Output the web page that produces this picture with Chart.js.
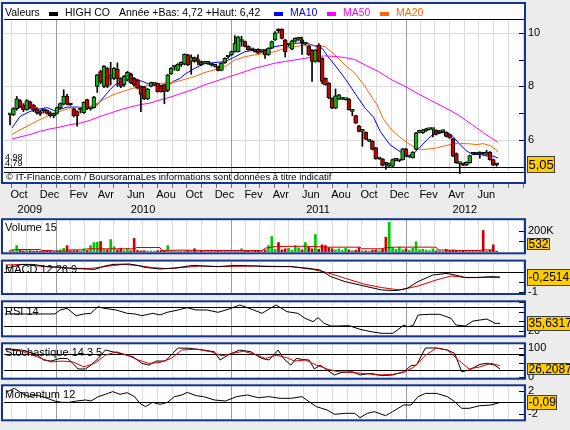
<!DOCTYPE html>
<html>
<head>
<meta charset="utf-8">
<script src="https://cdn.jsdelivr.net/npm/chart.js"></script>
<style>
  body { margin: 0; background: #ececec; }
  #wrap { position: relative; width: 570px; height: 430px; }
  canvas { position: absolute; left: 0; top: 0; }
</style>
</head>
<body>
<div id="wrap">
  <canvas id="cMain" width="570" height="430"></canvas>
  <canvas id="cVol" width="570" height="430"></canvas>
  <canvas id="cMacd" width="570" height="430"></canvas>
  <canvas id="cRsi" width="570" height="430"></canvas>
  <canvas id="cSto" width="570" height="430"></canvas>
  <canvas id="cMom" width="570" height="430"></canvas>
</div>
<script>
// weekly candles HIGH CO, week 0 = 28/09/2009
const opens = [6.93,6.93,7.16,7.46,7.30,7.12,7.42,7.30,7.15,7.05, 7.10,7.10,7.00,6.90,6.98,7.20,7.33,7.63,7.33,7.15,
  7.05,7.10,7.00,7.50,7.15,7.20,8.00,8.55,8.00,8.68, 8.30,8.30,8.65,8.30,8.06,8.24,8.45,8.30,8.24,8.00,
  7.98,7.53,8.00,8.08,8.10,8.02,8.06,7.85,8.47,8.72, 8.60,8.80,8.83,9.18,8.93,9.08,8.93,8.93,8.86,8.86,
  8.80,8.75,8.74,8.60,8.89,9.10,9.18,9.30,9.30,9.68, 9.68,9.50,9.37,9.37,9.39,9.30,9.36,9.18,9.43,9.74,
  10.12,10.14,9.74,9.55,9.39,9.68,9.76,9.74,9.58,9.51, 9.36,8.93,9.55,9.05,8.30,8.12,7.55,7.18,7.52,7.52,
  7.50,7.52,7.06,6.90,6.52,6.31,6.27,5.94,5.94,5.69, 5.28,5.28,5.12,5.00,5.00,5.22,5.20,5.25,5.65,5.35,
  5.32,5.63,6.27,6.25,6.33,6.38,6.38,6.35,6.25,6.30, 6.27,6.19,6.03,5.48,5.10,5.10,5.04,5.13,5.45,5.46,
  5.46,5.50,5.44,5.53,5.25,5.07];
const highs = [6.96,7.20,7.62,7.50,7.35,7.50,7.45,7.32,7.20,7.10, 7.12,7.12,7.05,7.00,7.22,7.38,7.87,7.70,7.35,7.18,
  7.08,7.12,7.42,7.52,7.20,7.62,8.45,8.60,8.78,8.70, 8.90,8.70,8.88,8.32,8.40,8.56,8.50,8.33,8.26,8.02,
  8.00,7.92,8.16,8.10,8.12,8.05,8.08,8.45,8.70,8.75, 8.85,8.92,9.22,9.20,9.18,9.10,9.18,8.95,8.88,8.90,
  8.84,8.82,8.76,8.88,9.07,9.14,9.32,9.90,9.88,9.88, 9.70,9.52,9.40,9.40,9.41,9.33,9.38,9.45,9.70,10.05,
  10.15,10.16,9.76,9.58,9.73,9.82,9.80,9.85,9.64,9.53, 9.38,9.38,9.60,9.07,8.32,8.14,7.57,7.90,7.70,7.55,
  7.52,7.54,7.08,6.92,6.54,6.33,6.29,5.96,5.96,5.71, 5.30,5.30,5.14,5.12,5.27,5.24,5.23,5.67,5.67,5.37,
  5.55,6.27,6.30,6.39,6.42,6.40,6.40,6.37,6.35,6.32, 6.29,6.21,6.05,5.50,5.12,5.12,5.17,5.42,5.47,5.48,
  5.54,5.52,5.60,5.55,5.27,5.09];
const lows = [6.55,6.90,7.10,7.20,7.05,7.10,7.15,7.05,6.95,6.90, 7.00,6.95,6.85,6.82,6.95,7.15,7.30,7.30,7.28,6.85,
  6.50,7.00,6.98,7.12,7.10,7.18,7.77,8.10,7.95,7.95, 8.05,8.25,8.00,7.95,8.00,8.20,8.10,8.00,7.90,7.05,
  7.50,7.50,7.98,8.05,7.78,7.78,7.35,7.80,8.45,8.60, 8.58,8.75,8.80,8.78,8.45,8.90,8.80,8.78,8.84,8.82,
  8.76,8.72,8.58,8.58,8.86,9.05,9.15,9.28,9.28,9.50, 9.48,9.35,9.34,9.28,9.22,9.27,9.05,9.16,9.41,9.72,
  10.00,9.78,9.10,9.50,9.37,9.66,9.72,9.20,9.55,9.16, 8.18,8.90,8.91,8.10,8.04,7.54,7.16,7.16,7.50,7.50,
  7.48,7.10,6.90,6.60,6.29,5.75,6.00,5.92,5.61,5.26, 5.26,5.01,4.88,4.98,4.98,5.20,5.17,5.23,5.36,5.33,
  5.30,5.61,6.25,6.23,6.31,6.36,6.10,6.17,6.23,6.28, 6.10,6.04,5.36,5.11,4.72,5.02,5.02,5.11,5.43,5.44,
  5.30,5.44,5.42,5.23,5.02,5.00];
const closes = [6.93,7.16,7.53,7.23,7.12,7.46,7.20,7.10,7.00,6.95, 7.08,6.98,6.90,6.95,7.20,7.35,7.63,7.33,7.30,6.90,
  6.90,7.10,7.40,7.15,7.16,7.60,8.43,8.16,8.75,8.00, 8.40,8.68,8.30,8.00,8.37,8.52,8.13,8.05,7.93,7.70,
  7.53,7.90,8.14,8.08,7.80,7.80,7.80,8.43,8.67,8.72, 8.83,8.90,9.20,8.80,9.10,8.93,8.93,8.80,8.86,8.86,
  8.80,8.80,8.60,8.86,9.05,9.10,9.30,9.61,9.86,9.68, 9.50,9.37,9.37,9.30,9.24,9.30,9.18,9.43,9.68,10.01,
  10.08,9.80,9.30,9.55,9.71,9.80,9.76,9.64,9.62,9.18, 8.93,9.36,8.93,8.18,8.06,7.56,7.18,7.64,7.68,7.52,
  7.50,7.12,7.06,6.62,6.31,6.31,6.02,5.94,5.63,5.28, 5.28,5.03,5.08,5.10,5.25,5.22,5.20,5.65,5.38,5.35,
  5.53,6.25,6.27,6.37,6.40,6.38,6.38,6.19,6.33,6.30, 6.12,6.06,5.38,5.13,5.10,5.04,5.15,5.40,5.45,5.46,
  5.46,5.46,5.53,5.25,5.04,5.05];
// volume, thousands of shares
const volumes = [12,15,60,18,10,14,12,8,10,6, 8,12,10,6,15,20,35,59,10,12, 14,8,30,15,60,88,90,98,25,20,
  116,50,18,35,15,30,12,126,14,10, 12,8,10,6,12,14,8,60,15,10, 8,12,10,14,8,30,10,8,6,10,
  12,8,10,14,12,8,10,15,12,30, 10,8,12,10,14,12,20,60,144,25, 88,20,30,35,18,60,40,20,88,45,
  30,163,25,67,60,40,30,20,30,15, 35,20,12,15,40,12,10,8,15,20, 12,25,138,277,40,25,45,20,30,15,
  35,95,20,25,18,12,30,10,12,8, 25,10,20,15,12,8,10,15,10,8, 12,200,10,15,67,8];
const volAvg = [[0,14],[1.3,23],[8.9,23],[9.5,14],[12.7,14],[13.3,8],[17.1,8],[17.6,20],[21.9,20],[23,30],
  [28.4,30],[29.5,30],[37.1,30],[37.7,42],[44.7,42],[45.2,14],[51.2,18],[57.7,14],[75,14],[76.1,36],
  [79.4,51],[88,54],[94.5,45],[104.3,45],[104.8,30],[110.8,30],[111.9,39],[114.6,45],[127,45],[127.5,20],
  [133.6,14],[140,14],[141.1,20],[144.4,20]];
// moving averages [week, price]
const ma10 = [[0.6,6.44],[3,6.87],[6,7.06],[8.9,7.15],[11,7.2],[13.4,7.08],[17,7.22],[20,7.22],[23.8,7.18],[25.9,7.3],
  [27.7,7.56],[29.8,7.87],[31.3,8.06],[34.9,8.24],[37.8,8.24],[39.6,8.18],[41.7,8.06],[44.7,7.99],[46.8,7.99],[48.6,8.18],
  [50.7,8.3],[52.1,8.45],[55.1,8.68],[58.1,8.86],[61.1,8.89],[64.1,8.93],[67,9.1],[70,9.3],[73,9.36],[76,9.36],
  [79,9.49],[81.9,9.55],[84.9,9.61],[87.9,9.64],[90.9,9.51],[93,9.43],[94.8,9.1],[96.8,8.8],[99.8,8.3],[102.8,7.74],
  [105.8,7.18],[108.3,6.85],[110.3,6.31],[113.2,5.81],[116.2,5.55],[118.3,5.38],[120.1,5.45],[122.2,5.72],[124.3,6.0],[126,6.19],
  [128.1,6.25],[130.2,6.27],[132,6.12],[134.1,5.81],[136.2,5.56],[138,5.44],[140.1,5.44],[142.1,5.38],[143.9,5.38],[145.4,5.31]];
const ma20 = [[0.6,6.19],[3,6.37],[6,6.56],[8.9,6.75],[11.9,6.93],[14.9,7.06],[17.9,7.18],[21.8,7.22],[24.7,7.27],[27.7,7.49],
  [30.7,7.68],[33.7,7.81],[36.7,7.93],[39.6,7.99],[42.6,8.09],[45.6,8.12],[48.6,8.14],[51.5,8.24],[55.1,8.37],[58.1,8.52],
  [61.1,8.62],[64.1,8.74],[67,8.99],[70,9.11],[73,9.18],[76,9.24],[79,9.3],[81.9,9.43],[84.9,9.49],[87.9,9.55],
  [90.9,9.54],[93.9,9.49],[96.8,9.18],[99.8,8.8],[102.8,8.49],[105.8,7.99],[108.3,7.5],[109.4,7.31],[111.1,6.81],[113.2,6.44],
  [115.3,6.19],[117.1,6.0],[119.2,5.81],[121.3,5.65],[123.1,5.63],[125.1,5.65],[127.2,5.69],[129,5.75],[131.1,5.81],[133.2,5.85],
  [135,5.85],[137.1,5.84],[139.2,5.81],[140.9,5.85],[143,5.78],[145.1,5.6],[145.4,5.53]];
const ma50 = [[0.6,6.02],[3,6.1],[6,6.19],[8.9,6.31],[11.9,6.4],[14.9,6.47],[17.9,6.56],[20.9,6.62],[23.8,6.72],[26.8,6.87],
  [29.8,6.99],[32.8,7.12],[35.8,7.22],[38.7,7.31],[41.7,7.37],[44.7,7.49],[47.7,7.59],[50.7,7.72],[53.6,7.84],[55.1,7.9],
  [58.1,8.06],[61.1,8.18],[64.1,8.31],[67,8.43],[70,8.55],[73,8.68],[76,8.77],[79,8.87],[81.9,8.93],[84.9,8.99],
  [87.9,9.05],[90.9,9.11],[93.9,9.14],[96.8,9.12],[99.8,9.08],[102.8,9.0],[105.8,8.8],[109.7,8.56],[113.8,8.24],[117.7,8.0],
  [121.6,7.72],[125.7,7.45],[129.6,7.2],[133.5,6.93],[137.7,6.56],[141.5,6.22],[145.4,5.9]];
const macd = [[-1.3,0.18],[3.6,0.38],[6.9,0.38],[11,0.27],[14.3,0.25],[18.8,0.18],[25.3,0.13],[28.3,0.3],[30.7,0.38],[35.5,0.4],
  [38.1,0.33],[40.2,0.23],[44.7,0.15],[49.2,0.2],[54.5,0.33],[57.8,0.3],[62,0.27],[67.3,0.33],[73,0.3],[77.2,0.27],
  [83.7,0.27],[89.1,0.18],[92.4,0.1],[95.6,-0.23],[99.8,-0.48],[105.5,-0.7],[110.8,-0.9],[115,-0.93],[118.3,-0.82],[121.6,-0.48],
  [126,-0.15],[130.2,-0.07],[133.5,-0.18],[135.6,-0.28],[138.9,-0.28],[143.3,-0.23],[146,-0.25]];
const macdSignal = [[-1.3,0.35],[3.6,0.38],[8.4,0.3],[13.3,0.23],[18.8,0.18],[24.1,0.18],[29.5,0.3],[33.9,0.38],[38.2,0.32],[42.5,0.22],
  [46.9,0.17],[51.2,0.22],[56.6,0.3],[62,0.27],[72.9,0.3],[83.7,0.27],[90.2,0.13],[94.5,-0.03],[100,-0.32],[105.4,-0.6],
  [110.8,-0.78],[116.2,-0.9],[121.6,-0.7],[127,-0.4],[131.4,-0.2],[135.7,-0.27],[140.1,-0.27],[146,-0.28]];
const rsi = [[-1.5,55.3],[13.4,55.3],[14.9,63.7],[17,67.2],[19.7,51.7],[22,55.3],[24.1,56.7],[26.2,70.6],[28,67.2],[29.5,65.8],
  [31.6,63.7],[34.9,56.7],[37.2,55.3],[39.3,51.7],[42.6,56.7],[44.7,53.2],[46.8,58.8],[50.1,63.7],[52.7,68.6],[55.4,63.7],
  [58.7,63.7],[62,58.8],[65.3,65.8],[68.5,74.2],[71.8,65.8],[75.1,56.7],[77.2,65.8],[79.3,74.2],[82.5,60.2],[85.8,56.7],
  [87.9,46.2],[90.3,39.1],[91.8,47.6],[93.6,35.6],[95.6,30],[97.7,30],[101,30.7],[104.3,23],[107.6,18],[110.8,14.6],
  [114.1,14.6],[117.4,32.1],[118.3,28.6],[120.1,30.7],[121.6,53.2],[124.9,54.6],[128.1,54.6],[131.4,46.2],[132.9,32.1],[135.6,30],
  [138,40.5],[142.1,44.7],[144.5,35.6],[146,35.6]];
const stochK = [[-1.4,96.6],[3.5,93],[7.9,78],[10,58.6],[12.2,55],[14.9,64],[17.1,64],[18.7,47],[20.3,27.6],[22.5,27.6],
  [24.1,41],[26.3,64],[28.4,93],[30.6,87],[33.9,78],[36.6,70],[39.3,47],[41.4,41],[43.6,55],[46.3,55],
  [48.5,81.6],[50.1,100],[53.4,99],[57.7,93],[60.9,87],[62.6,58.6],[65.3,78],[68.5,93],[71.8,87],[75,64],
  [77.2,58.6],[79.9,93],[81.5,64],[83.7,41],[85.3,64],[87.5,60],[89.1,58.6],[90.7,27.6],[92.4,41],[94.5,24],
  [96.7,7],[98.9,16],[102.1,18],[104.3,7],[107.5,12.6],[110.8,4.6],[114,7],[117.3,18],[119.5,39],[121.1,41],
  [123.8,100],[127.1,100],[130.3,93],[132.5,81.6],[134.6,18],[136.8,24],[140,43.7],[142.2,47],[144.4,41],[146,27.6]];
const stochD = [[-1.4,96],[3.5,89],[7.9,70],[12.2,52],[15.5,55],[18.7,52],[22,35],[25.2,47],[28.4,75],[31.7,87],
  [35,75],[38.2,58.6],[41.4,47],[44.7,50],[48,64],[51.2,93],[55.5,96],[59.9,87],[63.1,73],[66.4,81.6],
  [69.6,89],[72.9,78],[76.1,64],[79.4,75],[82.6,66],[84.8,55],[88,58.6],[91.3,41],[94.5,27.6],[97.8,18],
  [101,16],[105.4,12.6],[109.7,7],[114,9],[117.3,16],[120.5,35],[123.8,75],[127.1,100],[130.3,93],[133.6,58.6],
  [136.8,27.6],[140,35],[143.3,47],[146,39]];
const momentum = [[-0.8,1.8],[1.3,2.38],[3.5,1.5],[5.7,0.93],[7.9,1.22],[11.1,0.64],[13.3,0.17],[15.4,-0.06],[17.6,-0.06],[19.8,0.17],
  [22.5,0.35],[24.1,0.17],[26.3,0.93],[28.4,1.33],[30.6,1.8],[32.8,1.33],[34.9,1.62],[37.1,0.93],[38.7,-0.23],[40.4,-0.81],
  [42.5,-0.06],[44.7,-0.41],[46.9,-0.06],[49,0.93],[51.2,1.22],[52.8,1.68],[55.5,1.1],[57.7,0.93],[60.9,0.35],[64.2,0.17],
  [67.5,0.93],[70.7,1.22],[74,0.75],[77.2,0.93],[80.5,0.64],[83.7,0.64],[87,0.93],[89.1,0.06],[91.3,-0.81],[94.5,-1.39],
  [96.7,-2.14],[100,-1.97],[102.7,-1.97],[104.3,-2.72],[106.5,-1.97],[108.6,-1.68],[111.9,-2.38],[114,-1.68],[117.3,-0.52],[119.5,-0.52],
  [121.6,0.93],[123.8,1.5],[127.1,1.5],[130.3,0.93],[132.5,0.06],[134.6,-1.1],[136.8,-1.1],[140,-0.64],[143.3,-0.52],[146,-0.09]];

const monthLabels = ['Oct','Dec','Fev','Avr','Jun','Aou','Oct','Dec','Fev','Avr','Jun','Aou','Oct','Dec','Fev','Avr','Jun'];
const monthStarts = ['2009-10','2009-12','2010-02','2010-04','2010-06','2010-08','2010-10','2010-12',
  '2011-02','2011-04','2011-06','2011-08','2011-10','2011-12','2012-02','2012-04','2012-06'];
const yearLabels = ['2009','2010','2011','2012'];
const supportLevels = [4.98, 4.79];
const supportLabels = ['4,98', '4,79'];

const FONT = '"Liberation Sans", Arial, sans-serif';
const BORDER = '#14358f';
const UP = '#10b410', DOWN = '#c80000';
const START = Date.UTC(2009, 8, 28);
const WEEK = 7 * 864e5;
const X_MIN = -1.79, X_MAX = 153.16;

const weekOf = (y, m) => (Date.UTC(y, m, 1) - START) / WEEK;
const pts = arr => arr.map(([x, y]) => ({ x, y }));
const isUp = closes.map((c, i) => c >= opens[i]);

// every month start in view, for the grid
const gridMonths = [];
for (let y = 2009; y <= 2012; y++) {
  for (let m = 0; m < 12; m++) {
    const w = weekOf(y, m);
    if (w > X_MIN && w < X_MAX) gridMonths.push([y, m, w]);
  }
}

function baseOptions(top, bottom, min, max) {
  return {
    responsive: false, animation: false, devicePixelRatio: 1, events: [],
    layout: { padding: { left: 4, right: 46, top: top, bottom: 430 - bottom } },
    plugins: { legend: { display: false }, tooltip: { enabled: false } },
    scales: {
      x: { type: 'linear', min: X_MIN, max: X_MAX, offset: false, display: false },
      y: { min: min, max: max, display: false }
    }
  };
}

function lineSet(data, color, order) {
  return { type: 'line', data: pts(data), borderColor: color, borderWidth: 1,
    pointRadius: 0, tension: 0, fill: false, order: order };
}

function monthGrid(chart, top, bottom, lightBottom) {
  const { ctx, scales: { x } } = chart;
  ctx.save();
  ctx.lineWidth = 1;
  gridMonths.forEach(([y, m, w]) => {
    const px = Math.round(x.getPixelForValue(w)) + 0.5;
    ctx.strokeStyle = m === 0 ? '#9c9c9c' : '#dcdcdc';
    ctx.beginPath();
    ctx.moveTo(px, top);
    ctx.lineTo(px, m === 0 ? bottom : lightBottom);
    ctx.stroke();
  });
  ctx.restore();
}

function hLine(chart, v, color) {
  const { ctx, chartArea: a, scales: { y } } = chart;
  const py = Math.round(y.getPixelForValue(v)) + 0.5;
  ctx.save();
  ctx.strokeStyle = color; ctx.lineWidth = 1;
  ctx.beginPath(); ctx.moveTo(a.left, py); ctx.lineTo(a.right, py); ctx.stroke();
  ctx.restore();
}

function sideAxis(chart, ticks, labels) {
  const { ctx, chartArea: a, scales: { y } } = chart;
  ctx.save();
  ctx.strokeStyle = '#000'; ctx.lineWidth = 1;
  ticks.forEach(v => {
    const py = Math.round(y.getPixelForValue(v)) + 0.5;
    ctx.beginPath(); ctx.moveTo(a.right - 5, py); ctx.lineTo(a.right, py); ctx.stroke();
  });
  ctx.fillStyle = '#000'; ctx.font = '11px ' + FONT;
  ctx.textBaseline = 'middle'; ctx.textAlign = 'left';
  labels.forEach(([v, t]) => ctx.fillText(t, 528, y.getPixelForValue(v)));
  ctx.restore();
}

function valueBox(chart, value, text, h, size) {
  const { ctx, chartArea: a, scales: { y } } = chart;
  let yc = y.getPixelForValue(value);
  yc = Math.max(a.top + h / 2, Math.min(a.bottom - h / 2 - 2, yc));
  ctx.save();
  ctx.font = size + 'px ' + FONT;
  const w = Math.round(ctx.measureText(text).width) + 3;
  ctx.fillStyle = '#ffcc00';
  ctx.fillRect(527, Math.round(yc - h / 2), w, h);
  ctx.strokeStyle = '#404040'; ctx.lineWidth = 1;
  ctx.strokeRect(527.5, Math.round(yc - h / 2) + 0.5, w - 1, h - 1);
  ctx.fillStyle = '#000'; ctx.textBaseline = 'middle';
  ctx.fillText(text, 528.5, yc + 0.5);
  ctx.restore();
}

function frame(ctx, top, bottom) {
  ctx.save();
  ctx.strokeStyle = BORDER; ctx.lineWidth = 2;
  ctx.strokeRect(2, top, 523, bottom - top);
  ctx.restore();
}

function title(ctx, text, yc) {
  ctx.save();
  ctx.fillStyle = '#000'; ctx.font = '11px ' + FONT;
  ctx.textBaseline = 'middle';
  ctx.fillText(text, 5, yc);
  ctx.restore();
}

function subPlugin(cfg) {
  return {
    id: 'sub',
    beforeDraw(chart) {
      const { ctx, chartArea: a } = chart;
      ctx.save(); ctx.fillStyle = '#fff';
      ctx.fillRect(3, cfg.frame[0], 522, cfg.frame[1] - cfg.frame[0]);
      ctx.restore();
      monthGrid(chart, a.top, a.bottom, a.bottom);
      (cfg.refs || []).forEach(v => hLine(chart, v, '#000'));
    },
    afterDraw(chart) {
      const ctx = chart.ctx;
      title(ctx, cfg.title, cfg.titleY);
      sideAxis(chart, cfg.ticks, cfg.labels);
      valueBox(chart, cfg.value, cfg.valueText, cfg.boxH, 12);
      frame(ctx, cfg.frame[0], cfg.frame[1]);
    }
  };
}

// main price panel
const mainPlugin = {
  id: 'main',
  beforeDraw(chart) {
    const { ctx, chartArea: a, scales: { x, y } } = chart;
    ctx.save();
    ctx.fillStyle = '#fff';
    ctx.fillRect(3, 3, 522, 180);
    ctx.strokeStyle = '#dcdcdc'; ctx.lineWidth = 1;
    [10, 8, 6].forEach(v => {
      const py = Math.round(y.getPixelForValue(v)) + 0.5;
      ctx.beginPath(); ctx.moveTo(a.left, py); ctx.lineTo(a.right, py); ctx.stroke();
    });
    ctx.restore();
    monthGrid(chart, 20, 183, 171);
    supportLevels.forEach(v => hLine(chart, v, '#000'));
    ctx.save();
    ctx.strokeStyle = '#000'; ctx.lineWidth = 1;
    ctx.beginPath(); ctx.moveTo(a.left, 19.5); ctx.lineTo(a.right, 19.5); ctx.stroke();
    ctx.restore();
  },
  afterDraw(chart) {
    const { ctx, chartArea: a, scales: { x } } = chart;
    ctx.save();
    ctx.textBaseline = 'middle';
    ctx.font = '10.5px ' + FONT;
    const legend = [
      ['Valeurs', 5, '#000', null],
      ['HIGH CO', 65, '#000', 49],
      ['Année +Bas: 4,72 +Haut: 6,42', 119, '#000', null],
      ['MA10', 290, '#0000ff', 274],
      ['MA50', 343, '#ff00ff', 327],
      ['MA20', 396, '#ff6600', 380]
    ];
    legend.forEach(([t, tx, c, sx]) => {
      ctx.fillStyle = c;
      if (sx !== null) ctx.fillRect(sx, 12, 9, 4);
      ctx.fillText(t, tx, 13.5);
    });
    ctx.fillStyle = '#000';
    ctx.font = '9.5px ' + FONT;
    ctx.fillText('© IT-Finance.com / BoursoramaLes informations sont données à titre indicatif', 6, 177);
    ctx.font = '9px ' + FONT;
    ctx.fillText(supportLabels[0], 5, 157.5);
    ctx.fillText(supportLabels[1], 5, 163.5);
    ctx.restore();

    sideAxis(chart, [6, 7, 8, 9, 10], [[10, '10'], [8, '8'], [6, '6']]);
    valueBox(chart, closes[closes.length - 1], '5,05', 17, 13);
    frame(ctx, 3, 183);

    // time axis under the price panel
    ctx.save();
    ctx.strokeStyle = '#707070'; ctx.lineWidth = 1;
    gridMonths.forEach(([yy, m, w]) => {
      const px = Math.round(x.getPixelForValue(w)) + 0.5;
      ctx.beginPath(); ctx.moveTo(px, 184); ctx.lineTo(px, 188); ctx.stroke();
    });
    ctx.fillStyle = '#000'; ctx.font = '11px ' + FONT; ctx.textBaseline = 'middle';
    monthLabels.forEach((t, i) => {
      const [yy, mm] = monthStarts[i].split('-').map(Number);
      ctx.fillText(t, x.getPixelForValue(weekOf(yy, mm - 1)) - 1, 195);
    });
    ctx.textAlign = 'center';
    yearLabels.forEach(t => {
      const yy = Number(t);
      const l = Math.max(a.left, x.getPixelForValue(weekOf(yy, 0)));
      const r = Math.min(a.right, x.getPixelForValue(weekOf(yy + 1, 0)));
      ctx.fillText(t, (l + r) / 2, 210);
    });
    ctx.restore();
  }
};

new Chart(document.getElementById('cMain'), {
  type: 'bar',
  data: {
    datasets: [
      { type: 'bar', data: opens.map((o, i) => ({ x: i, y: [o, closes[i]] })),
        backgroundColor: isUp.map(u => u ? UP : DOWN), borderColor: '#000', borderWidth: 1,
        borderSkipped: false, barThickness: 4, minBarLength: 2, grouped: false, order: 1 },
      { type: 'bar', data: lows.map((l, i) => ({ x: i, y: [l, highs[i]] })),
        backgroundColor: '#000', barThickness: 1, grouped: false, order: 2 },
      lineSet(ma50, '#ff00ff', 3),
      lineSet(ma20, '#ff6600', 4),
      lineSet(ma10, '#0000ff', 5)
    ]
  },
  options: baseOptions(20, 183, 10 - 150 / 26.65, 10 + 13 / 26.65),
  plugins: [mainPlugin]
});

new Chart(document.getElementById('cVol'), {
  type: 'bar',
  data: {
    datasets: [
      lineSet(volAvg, '#d00000', 1),
      { type: 'bar', data: volumes.map((v, i) => ({ x: i, y: v })),
        backgroundColor: isUp.map(u => u ? '#00c800' : '#cc0000'), barThickness: 2, grouped: false, order: 2 }
    ]
  },
  options: baseOptions(220, 252, 0, 32 / 10.75 * 100),
  plugins: [subPlugin({ frame: [219.2, 253.3], title: 'Volume 15', titleY: 228,
    ticks: [100, 200], labels: [[200, '200K']], value: 0.532, valueText: '532', boxH: 12 })]
});

new Chart(document.getElementById('cMacd'), {
  type: 'line',
  data: { datasets: [lineSet(macdSignal, '#dd0000', 2), lineSet(macd, '#000', 1)] },
  options: baseOptions(262, 293, -21 / 20, 10 / 20),
  plugins: [subPlugin({ frame: [260.6, 294], title: 'MACD 12 26 9', titleY: 270, refs: [0],
    ticks: [0, -0.5, -1], labels: [[-1, '-1']], value: -0.2514, valueText: '-0,2514', boxH: 17 })]
});

new Chart(document.getElementById('cRsi'), {
  type: 'line',
  data: { datasets: [lineSet(rsi, '#000', 1)] },
  options: baseOptions(302, 336, 30 - 10 / 0.475, 30 + 24 / 0.475),
  plugins: [subPlugin({ frame: [301.3, 336.3], title: 'RSI 14', titleY: 311.5, refs: [70, 30],
    ticks: [20, 40, 60, 80], labels: [[20, '20']], value: 35.6317, valueText: '35,6317', boxH: 15 })]
});

new Chart(document.getElementById('cSto'), {
  type: 'line',
  data: { datasets: [lineSet(stochD, '#dd0000', 1), lineSet(stochK, '#000', 2)] },
  options: baseOptions(344, 378, -1 / 0.29, 33 / 0.29),
  plugins: [subPlugin({ frame: [343.3, 378.7], title: 'Stochastique 14 3 5', titleY: 353, refs: [80, 25],
    ticks: [0, 25, 50, 75, 100], labels: [[100, '100'], [0, '0']], value: 26.2087, valueText: '26,2087', boxH: 12 })]
});

new Chart(document.getElementById('cMom'), {
  type: 'line',
  data: { datasets: [lineSet(momentum, '#000', 1)] },
  options: baseOptions(386, 420, -18 / 5.75, 16 / 5.75),
  plugins: [subPlugin({ frame: [385.3, 420.3], title: 'Momentum 12', titleY: 395, refs: [0],
    ticks: [2, 0, -2], labels: [[2, '2'], [-2, '-2']], value: -0.09, valueText: '-0,09', boxH: 15 })]
});
</script>
</body>
</html>
